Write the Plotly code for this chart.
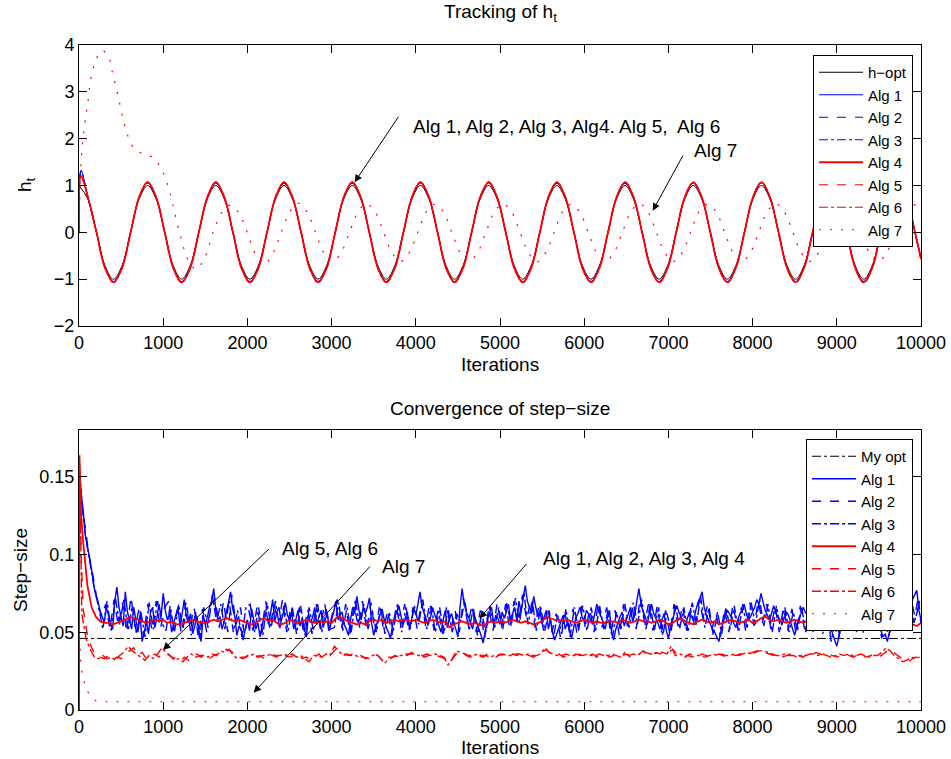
import plotly.graph_objects as go

# ---------------- top panel data: tracking of h_t ----------------
h_iters = [0, 106, 208, 309, 410, 511, 613, 714, 815, 916, 1018, 1119, 1220, 1321, 1423, 1524,
           1625, 1726, 1828, 1929, 2030, 2131, 2233, 2334, 2435, 2536, 2638, 2739, 2840, 2941,
           3043, 3144, 3245, 3346, 3448, 3549, 3650, 3751, 3853, 3954, 4055, 4156, 4258, 4359,
           4460, 4561, 4663, 4764, 4865, 4966, 5068, 5169, 5270, 5371, 5473, 5574, 5675, 5776,
           5878, 5979, 6080, 6181, 6283, 6384, 6485, 6586, 6688, 6789, 6890, 6991, 7093, 7194,
           7295, 7396, 7498, 7599, 7700, 7801, 7903, 8004, 8105, 8206, 8308, 8409, 8510, 8611,
           8713, 8814, 8915, 9016, 9118, 9219, 9320, 9421, 9523, 9624, 9725, 9826, 9928, 10000]

h_opt = [1.0,
         0.71, 0.0, -0.71, -1.0, -0.71, 0.0, 0.71, 1.0,
         0.71, 0.0, -0.71, -1.0, -0.71, 0.0, 0.71, 1.0,
         0.71, 0.0, -0.71, -1.0, -0.71, 0.0, 0.71, 1.0,
         0.71, 0.0, -0.71, -1.0, -0.71, 0.0, 0.71, 1.0,
         0.71, 0.0, -0.71, -1.0, -0.71, 0.0, 0.71, 1.0,
         0.71, 0.0, -0.71, -1.0, -0.71, 0.0, 0.71, 1.0,
         0.71, 0.0, -0.71, -1.0, -0.71, 0.0, 0.71, 1.0,
         0.71, 0.0, -0.71, -1.0, -0.71, 0.0, 0.71, 1.0,
         0.71, 0.0, -0.71, -1.0, -0.71, 0.0, 0.71, 1.0,
         0.71, 0.0, -0.71, -1.0, -0.71, 0.0, 0.71, 1.0,
         0.71, 0.0, -0.71, -1.0, -0.71, 0.0, 0.71, 1.0,
         0.71, 0.0, -0.71, -1.0, -0.71, 0.0, 0.71, 1.0,
         0.71, 0.0, -0.54]

alg_h_iters = [0, 25] + h_iters[1:]

blue_algs_h = [0.0, 1.32,
               0.74, 0.0, -0.74, -1.05, -0.74, 0.0, 0.74, 1.05,
               0.74, 0.0, -0.74, -1.05, -0.74, 0.0, 0.74, 1.05,
               0.74, 0.0, -0.74, -1.05, -0.74, 0.0, 0.74, 1.05,
               0.74, 0.0, -0.74, -1.05, -0.74, 0.0, 0.74, 1.05,
               0.74, 0.0, -0.74, -1.05, -0.74, 0.0, 0.74, 1.05,
               0.74, 0.0, -0.74, -1.05, -0.74, 0.0, 0.74, 1.05,
               0.74, 0.0, -0.74, -1.05, -0.74, 0.0, 0.74, 1.05,
               0.74, 0.0, -0.74, -1.05, -0.74, 0.0, 0.74, 1.05,
               0.74, 0.0, -0.74, -1.05, -0.74, 0.0, 0.74, 1.05,
               0.74, 0.0, -0.74, -1.05, -0.74, 0.0, 0.74, 1.05,
               0.74, 0.0, -0.74, -1.05, -0.74, 0.0, 0.74, 1.05,
               0.74, 0.0, -0.74, -1.05, -0.74, 0.0, 0.74, 1.05,
               0.74, 0.0, -0.56]

red_algs_h = [0.0, 1.2,
              0.75, 0.0, -0.76, -1.07, -0.76, 0.0, 0.75, 1.07,
              0.75, 0.0, -0.76, -1.07, -0.76, 0.0, 0.75, 1.07,
              0.75, 0.0, -0.76, -1.07, -0.76, 0.0, 0.75, 1.07,
              0.75, 0.0, -0.76, -1.07, -0.76, 0.0, 0.75, 1.07,
              0.75, 0.0, -0.76, -1.07, -0.76, 0.0, 0.75, 1.07,
              0.75, 0.0, -0.76, -1.07, -0.76, 0.0, 0.75, 1.07,
              0.75, 0.0, -0.76, -1.07, -0.76, 0.0, 0.75, 1.07,
              0.75, 0.0, -0.76, -1.07, -0.76, 0.0, 0.75, 1.07,
              0.75, 0.0, -0.76, -1.07, -0.76, 0.0, 0.75, 1.07,
              0.75, 0.0, -0.76, -1.07, -0.76, 0.0, 0.75, 1.07,
              0.75, 0.0, -0.76, -1.07, -0.76, 0.0, 0.75, 1.07,
              0.75, 0.0, -0.76, -1.07, -0.76, 0.0, 0.75, 1.07,
              0.75, 0.0, -0.57]

alg7_h_iters = [0, 28, 68, 107, 147, 195, 266, 345, 392, 456, 523, 582, 661, 780, 879, 958,
                1017, 1077, 1136, 1215, 1294,
                1390, 1491, 1593, 1694, 1795, 1896, 1998, 2099, 2200, 2301, 2403, 2504, 2605,
                2706, 2808, 2909, 3010, 3111, 3213, 3314, 3415,
                3516, 3618, 3719, 3820, 3921, 4023, 4124, 4225,
                4326, 4428, 4529, 4630, 4731, 4833, 4934, 5035,
                5136, 5238, 5339, 5440, 5541, 5643, 5744, 5845,
                5946, 6048, 6149, 6250, 6351, 6453, 6554, 6655,
                6756, 6858, 6959, 7060, 7161, 7263, 7364, 7465,
                7566, 7668, 7769, 7870, 7971, 8073, 8174, 8275,
                8376, 8478, 8579, 8680, 8781, 8883, 8984, 9085,
                9186, 9288, 9389, 9490, 9591, 9693, 9794, 9895,
                9996]
alg7_h = [0.0, 1.6, 2.3, 2.8, 3.35, 3.65, 3.88, 3.78, 3.45, 2.97, 2.43, 2.05, 1.78, 1.66, 1.6, 1.42,
          1.2, 0.87, 0.42, -0.15, -0.58,
          -0.79, -0.55, 0.0, 0.42, 0.58, 0.42, 0.0, -0.48, -0.68, -0.46, 0.0, 0.44, 0.62,
          0.44, 0.0, -0.44, -0.63, -0.44, 0.0, 0.44, 0.61,
          0.44, 0.0, -0.44, -0.62, -0.44, 0.0, 0.44, 0.60,
          0.44, 0.0, -0.44, -0.62, -0.44, 0.0, 0.44, 0.61,
          0.44, 0.0, -0.44, -0.63, -0.44, 0.0, 0.44, 0.60,
          0.44, 0.0, -0.44, -0.62, -0.44, 0.0, 0.44, 0.61,
          0.44, 0.0, -0.44, -0.62, -0.44, 0.0, 0.44, 0.60,
          0.44, 0.0, -0.44, -0.63, -0.44, 0.0, 0.44, 0.61,
          0.44, 0.0, -0.44, -0.62, -0.44, 0.0, 0.44, 0.60,
          0.44, 0.0, -0.44, -0.62, -0.44, 0.0, 0.44, 0.61,
          0.44]

# ---------------- bottom panel data: step-size convergence ----------------
# each algorithm was read off at its own set of iterations
step_iters_fine = [0, 5] + list(range(25, 10001, 25))
step_iters_a = [0, 5, 25] + list(range(50, 10001, 50))
step_iters_b = [0, 5, 25] + list(range(67, 10001, 50)) + [10000]
step_iters_c = [0, 5, 25] + list(range(33, 10001, 50))

my_opt_iters = [0, 10000]
my_opt = [0.046, 0.046]

alg1_step = [0.0, 0.150,
    0.140, 0.128, 0.112, 0.105, 0.098, 0.090, 0.080, 0.074, 0.070, 0.064, 0.060, 0.056, 0.066, 0.061, 0.055, 0.052, 0.070, 0.079, 0.066, 0.060,
    0.054, 0.076, 0.063, 0.058, 0.052, 0.066, 0.058, 0.050, 0.061, 0.044, 0.050, 0.057, 0.049, 0.063, 0.066, 0.053, 0.059, 0.068, 0.060, 0.075,
    0.064, 0.058, 0.062, 0.050, 0.056, 0.061, 0.066, 0.054, 0.062, 0.071, 0.060, 0.056, 0.062, 0.049, 0.054, 0.060, 0.051, 0.044, 0.061, 0.055,
    0.060, 0.066, 0.070, 0.078, 0.064, 0.058, 0.060, 0.052, 0.057, 0.063, 0.069, 0.076, 0.065, 0.060, 0.048, 0.054, 0.052, 0.045, 0.052, 0.058,
    0.051, 0.065, 0.058, 0.052, 0.056, 0.047, 0.054, 0.061, 0.063, 0.055, 0.062, 0.071, 0.057, 0.063, 0.066, 0.057, 0.062, 0.069, 0.061, 0.058,
    0.063, 0.052, 0.058, 0.064, 0.054, 0.059, 0.053, 0.047, 0.061, 0.056, 0.060, 0.066, 0.055, 0.060, 0.064, 0.053, 0.058, 0.062, 0.051, 0.058,
    0.063, 0.070, 0.058, 0.061, 0.063, 0.055, 0.052, 0.048, 0.058, 0.066, 0.062, 0.073, 0.064, 0.058, 0.066, 0.062, 0.066, 0.072, 0.056, 0.048,
    0.054, 0.057, 0.061, 0.065, 0.058, 0.053, 0.050, 0.046, 0.055, 0.060, 0.063, 0.067, 0.060, 0.055, 0.059, 0.063, 0.052, 0.058, 0.066, 0.061,
    0.068, 0.076, 0.066, 0.062, 0.058, 0.055, 0.060, 0.066, 0.061, 0.058, 0.054, 0.050, 0.058, 0.064, 0.053, 0.059, 0.062, 0.056, 0.052, 0.047,
    0.066, 0.078, 0.068, 0.063, 0.060, 0.056, 0.052, 0.060, 0.056, 0.052, 0.048, 0.043, 0.051, 0.058, 0.062, 0.066, 0.055, 0.061, 0.059, 0.055,
    0.063, 0.059, 0.063, 0.068, 0.058, 0.062, 0.066, 0.057, 0.070, 0.063, 0.072, 0.080, 0.070, 0.066, 0.062, 0.073, 0.066, 0.060, 0.064, 0.055,
    0.060, 0.064, 0.052, 0.058, 0.050, 0.045, 0.049, 0.053, 0.057, 0.061, 0.052, 0.056, 0.051, 0.046, 0.053, 0.059, 0.062, 0.066, 0.060, 0.057,
    0.064, 0.062, 0.058, 0.055, 0.062, 0.068, 0.064, 0.060, 0.056, 0.052, 0.059, 0.064, 0.050, 0.045, 0.052, 0.056, 0.060, 0.063, 0.054, 0.058,
    0.062, 0.066, 0.057, 0.061, 0.070, 0.078, 0.068, 0.063, 0.060, 0.055, 0.063, 0.068, 0.062, 0.059, 0.056, 0.052, 0.058, 0.062, 0.051, 0.046,
    0.053, 0.058, 0.063, 0.067, 0.063, 0.060, 0.057, 0.054, 0.059, 0.063, 0.060, 0.057, 0.064, 0.069, 0.072, 0.076, 0.066, 0.061, 0.058, 0.055,
    0.052, 0.050, 0.047, 0.044, 0.051, 0.057, 0.060, 0.064, 0.062, 0.059, 0.056, 0.053, 0.058, 0.062, 0.064, 0.068, 0.062, 0.058, 0.060, 0.063,
    0.066, 0.071, 0.068, 0.075, 0.069, 0.064, 0.061, 0.058, 0.062, 0.067, 0.063, 0.060, 0.058, 0.055, 0.059, 0.063, 0.061, 0.057, 0.052, 0.048,
    0.054, 0.059, 0.062, 0.066, 0.063, 0.061, 0.058, 0.055, 0.060, 0.064, 0.061, 0.058, 0.055, 0.052, 0.057, 0.060, 0.054, 0.049, 0.045, 0.041,
    0.047, 0.054, 0.058, 0.062, 0.060, 0.057, 0.062, 0.066, 0.063, 0.059, 0.056, 0.053, 0.057, 0.061, 0.059, 0.064, 0.061, 0.058, 0.060, 0.055,
    0.051, 0.047, 0.049, 0.044, 0.050, 0.056, 0.060, 0.063, 0.058, 0.060, 0.064, 0.068, 0.062, 0.057, 0.066, 0.071, 0.074, 0.077, 0.064, 0.058]

alg2_step = [0.0, 0.148, 0.135,
    0.120, 0.100, 0.086, 0.070, 0.060, 0.068, 0.052, 0.071, 0.054, 0.069,
    0.050, 0.073, 0.053, 0.066, 0.047, 0.068, 0.051, 0.070, 0.052, 0.066,
    0.070, 0.051, 0.064, 0.049, 0.069, 0.053, 0.066, 0.047, 0.065, 0.050,
    0.068, 0.072, 0.053, 0.070, 0.050, 0.074, 0.055, 0.066, 0.048, 0.064,
    0.051, 0.067, 0.049, 0.070, 0.052, 0.068, 0.055, 0.071, 0.050, 0.067,
    0.053, 0.066, 0.050, 0.065, 0.049, 0.068, 0.052, 0.069, 0.051, 0.064,
    0.071, 0.052, 0.068, 0.049, 0.067, 0.054, 0.070, 0.051, 0.069, 0.050,
    0.066, 0.052, 0.064, 0.048, 0.067, 0.053, 0.068, 0.050, 0.066, 0.052,
    0.070, 0.054, 0.069, 0.051, 0.065, 0.049, 0.067, 0.052, 0.064, 0.050,
    0.072, 0.055, 0.067, 0.050, 0.064, 0.046, 0.066, 0.051, 0.069, 0.053,
    0.068, 0.052, 0.070, 0.055, 0.074, 0.058, 0.071, 0.053, 0.069, 0.051,
    0.066, 0.050, 0.062, 0.047, 0.063, 0.051, 0.065, 0.048, 0.067, 0.052,
    0.065, 0.050, 0.069, 0.053, 0.066, 0.049, 0.064, 0.048, 0.068, 0.053,
    0.067, 0.052, 0.073, 0.056, 0.069, 0.051, 0.067, 0.050, 0.064, 0.049,
    0.068, 0.053, 0.067, 0.051, 0.066, 0.052, 0.071, 0.057, 0.068, 0.052,
    0.062, 0.047, 0.065, 0.050, 0.068, 0.053, 0.066, 0.051, 0.069, 0.054,
    0.070, 0.056, 0.068, 0.052, 0.067, 0.050, 0.066, 0.051, 0.065, 0.049,
    0.067, 0.052, 0.065, 0.050, 0.066, 0.051, 0.063, 0.049, 0.058, 0.045,
    0.064, 0.050, 0.068, 0.052, 0.066, 0.049, 0.067, 0.053, 0.065, 0.050,
    0.060, 0.046, 0.066, 0.051, 0.068, 0.054, 0.070, 0.056, 0.073, 0.055]

alg3_step = [0.0, 0.152, 0.142,
    0.132, 0.110, 0.094, 0.078, 0.066, 0.052, 0.070, 0.051, 0.072, 0.055,
    0.071, 0.051, 0.067, 0.049, 0.064, 0.047, 0.069, 0.052, 0.070, 0.056,
    0.051, 0.067, 0.050, 0.068, 0.052, 0.066, 0.048, 0.063, 0.046, 0.066,
    0.053, 0.074, 0.057, 0.068, 0.052, 0.070, 0.050, 0.064, 0.047, 0.066,
    0.068, 0.050, 0.066, 0.048, 0.069, 0.053, 0.070, 0.052, 0.067, 0.051,
    0.066, 0.049, 0.067, 0.048, 0.066, 0.051, 0.068, 0.050, 0.065, 0.052,
    0.053, 0.069, 0.051, 0.066, 0.050, 0.071, 0.053, 0.068, 0.052, 0.064,
    0.050, 0.066, 0.049, 0.063, 0.051, 0.068, 0.050, 0.066, 0.052, 0.067,
    0.055, 0.071, 0.052, 0.067, 0.050, 0.066, 0.049, 0.065, 0.050, 0.062,
    0.057, 0.070, 0.051, 0.066, 0.048, 0.062, 0.050, 0.067, 0.052, 0.066,
    0.052, 0.069, 0.054, 0.072, 0.056, 0.076, 0.055, 0.070, 0.051, 0.066,
    0.051, 0.064, 0.046, 0.061, 0.049, 0.065, 0.047, 0.066, 0.051, 0.067,
    0.051, 0.066, 0.050, 0.067, 0.052, 0.064, 0.046, 0.063, 0.051, 0.068,
    0.053, 0.069, 0.055, 0.071, 0.052, 0.068, 0.051, 0.066, 0.048, 0.062,
    0.051, 0.068, 0.052, 0.066, 0.050, 0.069, 0.055, 0.073, 0.053, 0.066,
    0.048, 0.063, 0.049, 0.066, 0.052, 0.067, 0.050, 0.068, 0.052, 0.069,
    0.055, 0.071, 0.054, 0.068, 0.050, 0.067, 0.052, 0.066, 0.050, 0.063,
    0.051, 0.066, 0.050, 0.067, 0.052, 0.065, 0.049, 0.062, 0.044, 0.057,
    0.049, 0.066, 0.051, 0.067, 0.050, 0.068, 0.052, 0.066, 0.051, 0.064,
    0.046, 0.062, 0.050, 0.067, 0.053, 0.069, 0.055, 0.072, 0.058, 0.070]

alg4_step = [0.0, 0.164, 0.125,
    0.108, 0.080, 0.066, 0.060, 0.057, 0.056, 0.056, 0.055, 0.056, 0.057,
    0.058, 0.060, 0.059, 0.058, 0.057, 0.056, 0.057, 0.058, 0.057, 0.058,
    0.056, 0.057, 0.055, 0.055, 0.056, 0.057, 0.058, 0.057, 0.056, 0.056,
    0.057, 0.058, 0.057, 0.058, 0.059, 0.058, 0.057, 0.058, 0.057, 0.056,
    0.055, 0.056, 0.058, 0.059, 0.057, 0.058, 0.056, 0.055, 0.056, 0.058,
    0.057, 0.056, 0.057, 0.058, 0.057, 0.056, 0.057, 0.056, 0.057, 0.056,
    0.059, 0.060, 0.058, 0.057, 0.056, 0.055, 0.056, 0.055, 0.057, 0.058,
    0.057, 0.058, 0.056, 0.057, 0.058, 0.057, 0.058, 0.058, 0.057, 0.058,
    0.057, 0.056, 0.057, 0.058, 0.057, 0.056, 0.057, 0.053, 0.055, 0.056,
    0.057, 0.056, 0.055, 0.056, 0.055, 0.054, 0.056, 0.057, 0.056, 0.057,
    0.056, 0.057, 0.058, 0.057, 0.056, 0.057, 0.056, 0.055, 0.056, 0.057,
    0.060, 0.059, 0.058, 0.058, 0.057, 0.058, 0.057, 0.056, 0.057, 0.058,
    0.057, 0.056, 0.057, 0.056, 0.056, 0.057, 0.057, 0.056, 0.058, 0.057,
    0.056, 0.057, 0.058, 0.057, 0.057, 0.056, 0.057, 0.058, 0.057, 0.055,
    0.056, 0.058, 0.059, 0.057, 0.056, 0.055, 0.057, 0.058, 0.057, 0.056,
    0.057, 0.055, 0.056, 0.057, 0.058, 0.057, 0.056, 0.057, 0.058, 0.056,
    0.057, 0.059, 0.060, 0.058, 0.057, 0.058, 0.057, 0.056, 0.057, 0.058,
    0.057, 0.056, 0.057, 0.058, 0.057, 0.056, 0.057, 0.056, 0.057, 0.056,
    0.057, 0.058, 0.057, 0.056, 0.057, 0.058, 0.057, 0.058, 0.057, 0.056,
    0.057, 0.058, 0.059, 0.058, 0.057, 0.056, 0.057, 0.055, 0.054, 0.056]

alg5_step = [0.0, 0.160, 0.100,
    0.065, 0.048, 0.040, 0.035, 0.034, 0.033, 0.035, 0.032, 0.034, 0.033,
    0.036, 0.038, 0.040, 0.035, 0.037, 0.033, 0.034, 0.036, 0.034, 0.037,
    0.036, 0.034, 0.033, 0.031, 0.034, 0.032, 0.035, 0.036, 0.034, 0.036,
    0.033, 0.035, 0.036, 0.037, 0.039, 0.038, 0.036, 0.034, 0.033, 0.035,
    0.036, 0.034, 0.035, 0.033, 0.036, 0.035, 0.034, 0.037, 0.035, 0.034,
    0.035, 0.036, 0.033, 0.034, 0.032, 0.034, 0.036, 0.033, 0.035, 0.036,
    0.039, 0.037, 0.036, 0.035, 0.036, 0.034, 0.035, 0.033, 0.034, 0.036,
    0.035, 0.032, 0.031, 0.033, 0.035, 0.034, 0.036, 0.035, 0.037, 0.035,
    0.036, 0.034, 0.035, 0.036, 0.035, 0.034, 0.033, 0.030, 0.034, 0.037,
    0.038, 0.035, 0.034, 0.036, 0.035, 0.034, 0.036, 0.035, 0.034, 0.036,
    0.035, 0.034, 0.036, 0.035, 0.037, 0.036, 0.035, 0.034, 0.036, 0.037,
    0.039, 0.036, 0.035, 0.036, 0.034, 0.035, 0.034, 0.036, 0.035, 0.036,
    0.035, 0.036, 0.034, 0.035, 0.036, 0.034, 0.035, 0.034, 0.035, 0.036,
    0.034, 0.035, 0.036, 0.038, 0.036, 0.035, 0.037, 0.036, 0.038, 0.037,
    0.039, 0.036, 0.035, 0.034, 0.036, 0.035, 0.034, 0.036, 0.035, 0.034,
    0.035, 0.036, 0.035, 0.034, 0.036, 0.035, 0.036, 0.037, 0.036, 0.037,
    0.038, 0.039, 0.037, 0.036, 0.035, 0.036, 0.034, 0.035, 0.036, 0.034,
    0.035, 0.034, 0.036, 0.035, 0.037, 0.036, 0.035, 0.036, 0.035, 0.034,
    0.035, 0.036, 0.035, 0.034, 0.036, 0.035, 0.034, 0.035, 0.036, 0.034,
    0.036, 0.038, 0.039, 0.036, 0.034, 0.032, 0.031, 0.033, 0.034, 0.033]

alg6_step = [0.0, 0.158, 0.095,
    0.062, 0.046, 0.039, 0.034, 0.033, 0.035, 0.033, 0.034, 0.032, 0.035,
    0.037, 0.041, 0.038, 0.036, 0.034, 0.032, 0.035, 0.033, 0.036, 0.040,
    0.037, 0.035, 0.032, 0.033, 0.031, 0.034, 0.036, 0.034, 0.035, 0.035,
    0.034, 0.036, 0.035, 0.038, 0.037, 0.039, 0.035, 0.033, 0.034, 0.034,
    0.035, 0.036, 0.034, 0.035, 0.035, 0.036, 0.035, 0.035, 0.036, 0.035,
    0.036, 0.034, 0.035, 0.033, 0.031, 0.035, 0.035, 0.034, 0.036, 0.035,
    0.041, 0.038, 0.035, 0.036, 0.035, 0.035, 0.034, 0.034, 0.033, 0.035,
    0.036, 0.033, 0.030, 0.034, 0.034, 0.035, 0.035, 0.036, 0.036, 0.036,
    0.035, 0.035, 0.036, 0.035, 0.036, 0.035, 0.034, 0.029, 0.033, 0.038,
    0.037, 0.036, 0.035, 0.035, 0.036, 0.035, 0.035, 0.034, 0.035, 0.035,
    0.036, 0.035, 0.035, 0.036, 0.036, 0.035, 0.036, 0.035, 0.035, 0.036,
    0.040, 0.037, 0.036, 0.035, 0.035, 0.036, 0.035, 0.035, 0.036, 0.035,
    0.036, 0.035, 0.035, 0.036, 0.035, 0.035, 0.036, 0.035, 0.034, 0.037,
    0.035, 0.036, 0.035, 0.037, 0.037, 0.036, 0.036, 0.037, 0.037, 0.036,
    0.041, 0.035, 0.036, 0.035, 0.035, 0.034, 0.035, 0.035, 0.034, 0.035,
    0.036, 0.035, 0.036, 0.035, 0.035, 0.036, 0.035, 0.036, 0.037, 0.036,
    0.037, 0.038, 0.038, 0.037, 0.036, 0.035, 0.035, 0.036, 0.035, 0.035,
    0.034, 0.035, 0.035, 0.036, 0.036, 0.035, 0.036, 0.035, 0.034, 0.035,
    0.036, 0.035, 0.036, 0.035, 0.035, 0.036, 0.035, 0.034, 0.035, 0.035,
    0.037, 0.040, 0.038, 0.035, 0.033, 0.031, 0.032, 0.034, 0.033, 0.034]

alg7_step_iters = [0, 5, 25, 50, 100, 150, 200, 300, 10000]
alg7_step = [0.0, 0.048, 0.027, 0.020, 0.012, 0.008, 0.006, 0.0053, 0.0053]

assert len(alg1_step) == len(step_iters_fine), len(alg1_step)
for arr in (alg2_step, alg3_step, alg4_step, alg5_step, alg6_step):
    assert len(arr) == len(step_iters_a) == len(step_iters_b) == len(step_iters_c), len(arr)
assert len(h_opt) == len(h_iters)
assert len(blue_algs_h) == len(alg_h_iters) == len(red_algs_h)
assert len(alg7_h) == len(alg7_h_iters)

x_ticks = list(range(0, 10001, 1000))
x_ticktext = [str(v) for v in x_ticks]
top_y_ticks = [-2, -1, 0, 1, 2, 3, 4]
bottom_y_ticks = [0, 0.05, 0.1, 0.15]
bottom_y_ticktext = ["0", "0.05", "0.1", "0.15"]

# ---------------- figure ----------------
FONT = "Liberation Sans, Arial, Helvetica, sans-serif"
BLUE = "#0000ff"
RED = "#ff0000"
DOT = "2px,9px"

fig = go.Figure()

top_specs = [
    ("h\u2212opt", h_iters, h_opt, "#000000", "solid", 1),
    ("Alg 1", alg_h_iters, blue_algs_h, BLUE, "solid", 1),
    ("Alg 2", alg_h_iters, blue_algs_h, BLUE, "dash", 1),
    ("Alg 3", alg_h_iters, blue_algs_h, BLUE, "dashdot", 1),
    ("Alg 4", alg_h_iters, red_algs_h, RED, "solid", 1.8),
    ("Alg 5", alg_h_iters, red_algs_h, RED, "dash", 1.2),
    ("Alg 6", alg_h_iters, red_algs_h, RED, "dashdot", 1.2),
    ("Alg 7", alg7_h_iters, alg7_h, RED, DOT, 1.2),
]
for name, xs, ys, col, dash, w in top_specs:
    fig.add_trace(go.Scatter(x=xs, y=ys, mode="lines", name=name,
                             line=dict(color=col, dash=dash, width=w, shape="spline", smoothing=1.0),
                             xaxis="x", yaxis="y", legend="legend"))

bottom_specs = [
    ("My opt", my_opt_iters, my_opt, "#000000", "dashdot", 1),
    ("Alg 1", step_iters_fine, alg1_step, BLUE, "solid", 1.4),
    ("Alg 2", step_iters_b, alg2_step, BLUE, "dash", 1.4),
    ("Alg 3", step_iters_c, alg3_step, BLUE, "dashdot", 1.4),
    ("Alg 4", step_iters_a, alg4_step, RED, "solid", 1.8),
    ("Alg 5", step_iters_a, alg5_step, RED, "dash", 1.4),
    ("Alg 6", step_iters_c, alg6_step, RED, "dashdot", 1.4),
    ("Alg 7", alg7_step_iters, alg7_step, RED, DOT, 1.2),
]
for name, xs, ys, col, dash, w in bottom_specs:
    fig.add_trace(go.Scatter(x=xs, y=ys, mode="lines", name=name,
                             line=dict(color=col, dash=dash, width=w, simplify=False),
                             xaxis="x2", yaxis="y2", legend="legend2"))

W, H = 951, 759
L, R, T, B = 79, 921, 45, 710          # outer box of both panels, in pixels
PW, PH = R - L, B - T


def px(xpix):
    return (xpix - L) / PW


def py(ypix):
    return (B - ypix) / PH


top_dom = [py(326), py(45)]
bot_dom = [py(710), py(430)]

axis_common = dict(showline=True, linecolor="black", linewidth=1, mirror="ticks",
                   ticks="inside", ticklen=8, tickcolor="black", tickwidth=1,
                   showgrid=False, zeroline=False, automargin=False,
                   tickfont=dict(family=FONT, size=18, color="black"))

legend_common = dict(xanchor="right", yanchor="top", bgcolor="white",
                     bordercolor="black", borderwidth=1, tracegroupgap=0,
                     itemwidth=44,
                     font=dict(family=FONT, size=15, color="black"))

fig.update_layout(
    width=W, height=H,
    margin=dict(l=L, r=W - R, t=T, b=H - B, autoexpand=False),
    paper_bgcolor="white", plot_bgcolor="white",
    font=dict(family=FONT, size=19, color="black"),
    xaxis=dict(domain=[0, 1], anchor="y", range=[0, 10000], tickvals=x_ticks,
               ticktext=x_ticktext, **axis_common),
    yaxis=dict(domain=top_dom, anchor="x", range=[-2, 4], tickvals=top_y_ticks, **axis_common),
    xaxis2=dict(domain=[0, 1], anchor="y2", range=[0, 10000], tickvals=x_ticks,
                ticktext=x_ticktext, **axis_common),
    yaxis2=dict(domain=bot_dom, anchor="x2", range=[0, 0.18], tickvals=bottom_y_ticks,
                ticktext=bottom_y_ticktext, **axis_common),
    legend=dict(x=px(913), y=py(55), **legend_common),
    legend2=dict(x=px(913), y=py(439), **legend_common),
    showlegend=True,
)

ann = [
    dict(text="Tracking of h<sub>t</sub>", x=0.5, y=py(13), xref="paper", yref="paper",
         showarrow=False, xanchor="center", yanchor="middle"),
    dict(text="Convergence of step\u2212size", x=0.5, y=py(409), xref="paper", yref="paper",
         showarrow=False, xanchor="center", yanchor="middle"),
    dict(text="Iterations", x=0.5, y=py(364), xref="paper", yref="paper",
         showarrow=False, xanchor="center", yanchor="middle"),
    dict(text="Iterations", x=0.5, y=py(747), xref="paper", yref="paper",
         showarrow=False, xanchor="center", yanchor="middle"),
    dict(text="h<sub>t</sub>", x=px(26), y=py(185), xref="paper", yref="paper",
         showarrow=False, xanchor="center", yanchor="middle", textangle=-90),
    dict(text="Step\u2212size", x=px(20), y=py(570), xref="paper", yref="paper",
         showarrow=False, xanchor="center", yanchor="middle", textangle=-90),
    # top panel labels
    dict(text="Alg 1, Alg 2, Alg 3, Alg4. Alg 5,  Alg 6", x=3942, y=2.25, xref="x", yref="y",
         showarrow=False, xanchor="left", yanchor="middle"),
    dict(text="", x=3273, y=1.07, xref="x", yref="y", ax=3806, ay=2.5, axref="x", ayref="y",
         showarrow=True, arrowhead=2, arrowsize=1.5, arrowwidth=1, arrowcolor="black"),
    dict(text="Alg 7", x=7285, y=1.74, xref="x", yref="y",
         showarrow=False, xanchor="left", yanchor="middle"),
    dict(text="", x=6814, y=0.46, xref="x", yref="y", ax=7182, ay=1.67, axref="x", ayref="y",
         showarrow=True, arrowhead=2, arrowsize=1.5, arrowwidth=1, arrowcolor="black"),
    # bottom panel labels
    dict(text="Alg 5, Alg 6", x=2382, y=0.104, xref="x2", yref="y2",
         showarrow=False, xanchor="left", yanchor="middle"),
    dict(text="", x=997, y=0.0386, xref="x2", yref="y2", ax=2272, ay=0.1043, axref="x2", ayref="y2",
         showarrow=True, arrowhead=2, arrowsize=1.5, arrowwidth=1, arrowcolor="black"),
    dict(text="Alg 7", x=3578, y=0.0925, xref="x2", yref="y2",
         showarrow=False, xanchor="left", yanchor="middle"),
    dict(text="", x=2074, y=0.0111, xref="x2", yref="y2", ax=3471, ay=0.0932, axref="x2", ayref="y2",
         showarrow=True, arrowhead=2, arrowsize=1.5, arrowwidth=1, arrowcolor="black"),
    dict(text="Alg 1, Alg 2, Alg 3, Alg 4", x=5481, y=0.0975, xref="x2", yref="y2",
         showarrow=False, xanchor="left", yanchor="middle"),
    dict(text="", x=4757, y=0.0589, xref="x2", yref="y2", ax=5330, ay=0.0949, axref="x2", ayref="y2",
         showarrow=True, arrowhead=2, arrowsize=1.5, arrowwidth=1, arrowcolor="black"),
]
fig.update_layout(annotations=ann)

fig.write_html("out.html", config={"displayModeBar": False})
